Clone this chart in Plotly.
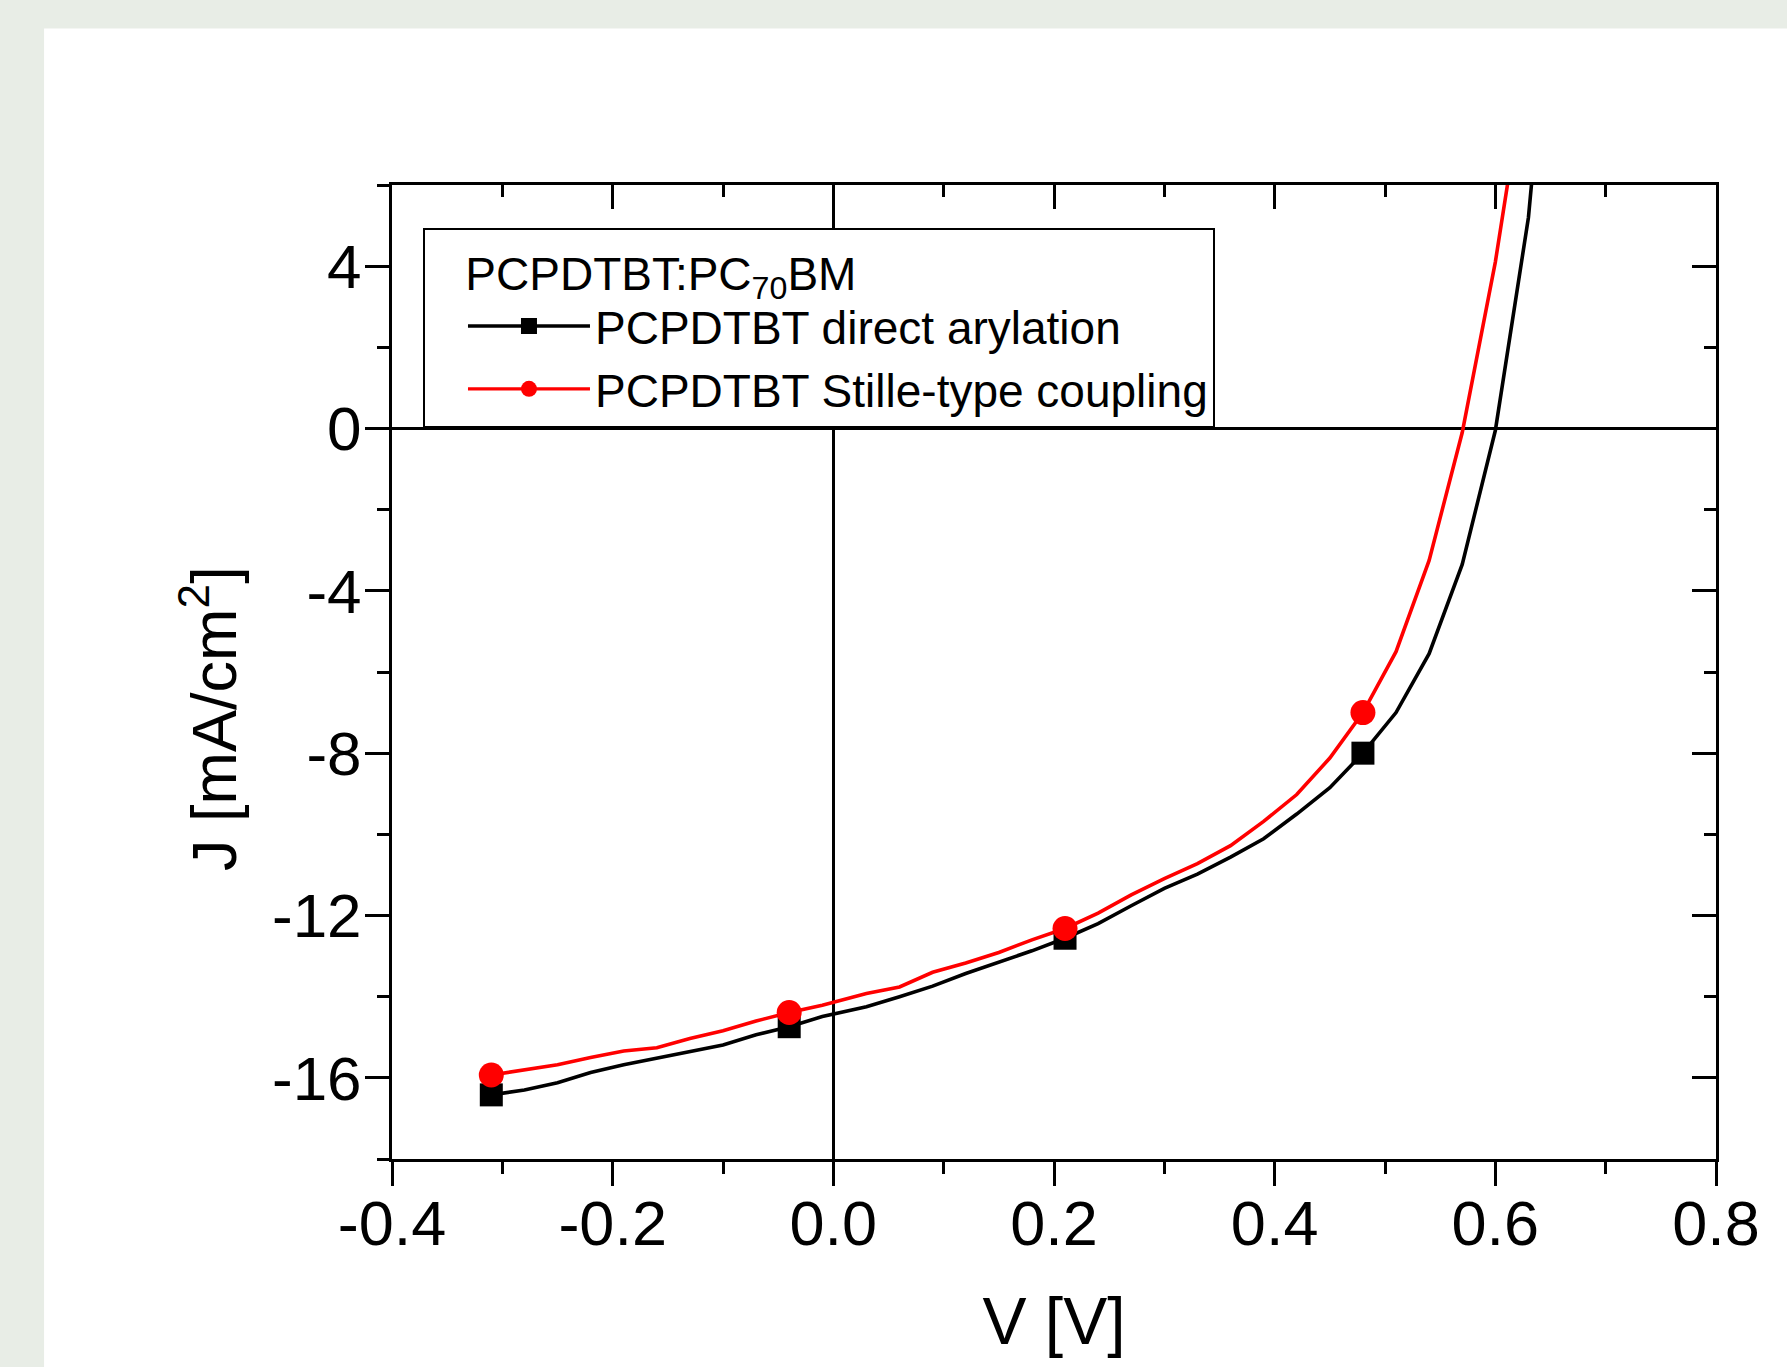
import plotly.graph_objects as go

# ---------------- data ----------------
V = [-0.31, -0.28, -0.25, -0.22, -0.19, -0.16, -0.13, -0.10, -0.07, -0.04,
     -0.01, 0.03, 0.06, 0.09, 0.12, 0.15, 0.18, 0.21, 0.24, 0.27,
     0.30, 0.33, 0.36, 0.39, 0.42, 0.45, 0.48, 0.51, 0.54, 0.57,
     0.60, 0.63, 0.66]
J_direct = [-16.42, -16.30, -16.12, -15.87, -15.68, -15.52, -15.35, -15.19, -14.94, -14.74,
            -14.49, -14.25, -14.00, -13.74, -13.43, -13.15, -12.87, -12.56, -12.20, -11.76,
            -11.33, -10.98, -10.56, -10.11, -9.50, -8.85, -8.00, -7.00, -5.55, -3.35,
            -0.05, 5.20, 14.0]
V_stille = V[:32]
J_stille = [-15.93, -15.81, -15.68, -15.50, -15.34, -15.26, -15.03, -14.84, -14.60, -14.39,
            -14.21, -13.92, -13.76, -13.40, -13.17, -12.91, -12.60, -12.32, -11.94, -11.49,
            -11.09, -10.72, -10.28, -9.68, -9.02, -8.12, -7.00, -5.50, -3.25, -0.10,
            4.10, 9.30]
marker_idx = [0, 9, 17, 26]

names = ["PCPDTBT direct arylation", "PCPDTBT Stille-type coupling"]
legend_title = "&nbsp;&nbsp;&nbsp;PCPDTBT:PC<sub>70</sub>BM"
x_title = "V [V]"
y_title = "J [mA/cm<sup>2</sup>]"

x_tickvals = [-0.4, -0.2, 0.0, 0.2, 0.4, 0.6, 0.8]
x_ticktext = ["-0.4", "-0.2", "0.0", "0.2", "0.4", "0.6", "0.8"]
y_tickvals = [4, 0, -4, -8, -12, -16]
y_ticktext = ["4", "0", "-4", "-8", "-12", "-16"]
x_range = [-0.4, 0.8]
y_range = [-18, 6]

FONT = "Liberation Sans, Arial, sans-serif"

fig = go.Figure()

# lines
fig.add_trace(go.Scatter(x=V, y=J_direct, mode="lines", line=dict(color="black", width=3.6),
                         showlegend=False, hoverinfo="skip"))
fig.add_trace(go.Scatter(x=V_stille, y=J_stille, mode="lines", line=dict(color="red", width=3.6),
                         showlegend=False, hoverinfo="skip"))
# markers (every n-th point)
fig.add_trace(go.Scatter(x=[V[i] for i in marker_idx], y=[J_direct[i] for i in marker_idx],
                         mode="markers", marker=dict(symbol="square", size=23, color="black"),
                         showlegend=False))
fig.add_trace(go.Scatter(x=[V_stille[i] for i in marker_idx], y=[J_stille[i] for i in marker_idx],
                         mode="markers", marker=dict(symbol="circle", size=25, color="red"),
                         showlegend=False))
# legend entries
fig.add_trace(go.Scatter(x=[None], y=[None], mode="lines+markers", name=names[0],
                         line=dict(color="black", width=3.4),
                         marker=dict(symbol="square", size=16, color="black")))
fig.add_trace(go.Scatter(x=[None], y=[None], mode="lines+markers", name=names[1],
                         line=dict(color="red", width=3.4),
                         marker=dict(symbol="circle", size=16, color="red")))
# helper trace for mirrored axes
fig.add_trace(go.Scatter(x=[None], y=[None], xaxis="x2", yaxis="y2", showlegend=False,
                         hoverinfo="skip"))

axis_common = dict(showgrid=False, linecolor="black", linewidth=3, tickcolor="black",
                   tickwidth=3, ticklen=24)

fig.update_layout(
    width=1787, height=1367, autosize=False,
    margin=dict(l=392, r=71, t=185, b=208),
    paper_bgcolor="#e8ede6",
    plot_bgcolor="white",
    font=dict(family=FONT, color="black"),
    xaxis=dict(range=x_range, tickmode="array", tickvals=x_tickvals, ticktext=x_ticktext,
               ticks="outside", showline=True, mirror=True,
               zeroline=True, zerolinecolor="black", zerolinewidth=2.8,
               tickfont=dict(size=63, family=FONT), ticklabelstandoff=-17,
               minor=dict(dtick=0.1, tick0=0, ticks="outside", ticklen=12, tickwidth=3,
                          tickcolor="black", showgrid=False),
               title=dict(text=x_title, font=dict(size=66, family=FONT), standoff=42),
               **axis_common),
    yaxis=dict(range=y_range, tickmode="array", tickvals=y_tickvals, ticktext=y_ticktext,
               ticks="outside", showline=True, mirror=True,
               zeroline=True, zerolinecolor="black", zerolinewidth=2.8,
               tickfont=dict(size=62, family=FONT), ticklabelstandoff=-9,
               minor=dict(dtick=2, tick0=0, ticks="outside", ticklen=12, tickwidth=3,
                          tickcolor="black", showgrid=False),
               **axis_common),
    xaxis2=dict(range=x_range, overlaying="x", side="top", anchor="y", tickmode="array",
                tickvals=x_tickvals, ticks="inside", showticklabels=False, showline=False,
                zeroline=False,
                minor=dict(dtick=0.1, tick0=0, ticks="inside", ticklen=12, tickwidth=3,
                           tickcolor="black", showgrid=False),
                **axis_common),
    yaxis2=dict(range=y_range, overlaying="y", side="right", anchor="x", tickmode="array",
                tickvals=y_tickvals, ticks="inside", showticklabels=False, showline=False,
                zeroline=False,
                minor=dict(dtick=2, tick0=0, ticks="inside", ticklen=12, tickwidth=3,
                           tickcolor="black", showgrid=False),
                **axis_common),
    legend=dict(x=0.0234, y=0.956, xanchor="left", yanchor="top",
                bgcolor="white", bordercolor="black", borderwidth=2,
                font=dict(size=46, family=FONT, color="black"),
                title=dict(text=legend_title, font=dict(size=46, family=FONT, color="black")),
                itemwidth=122, indentation=38, tracegroupgap=0),
    annotations=[dict(text=y_title, textangle=-90, xref="paper", yref="paper",
                      x=-0.1385, y=0.4525, xanchor="center", yanchor="middle",
                      showarrow=False, font=dict(size=63, family=FONT, color="black"))],
    shapes=[dict(type="rect", xref="paper", yref="paper", x0=-0.2628, x1=1.2,
                 y0=-0.4, y1=1.1606, fillcolor="white", line=dict(width=0), layer="below")],
)

fig.write_html("out.html", config={"displayModeBar": False},
               post_script="document.body.style.margin='0px';"
                           "document.body.style.background='#e8ede6';")
